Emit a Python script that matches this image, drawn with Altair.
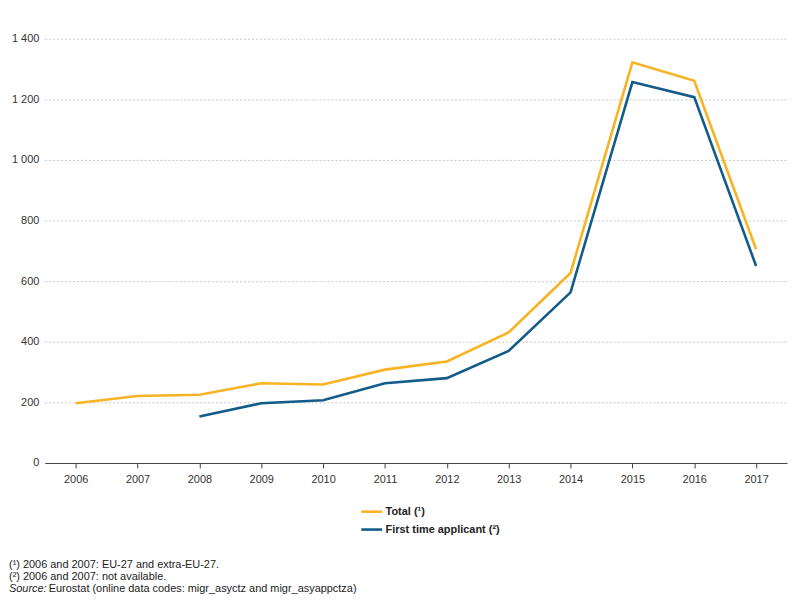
import altair as alt
import pandas as pd

years = [str(y) for y in range(2006, 2018)]
total = [197, 221, 225, 263, 259, 308, 335, 431, 627, 1322, 1261, 705]
first_years = [str(y) for y in range(2008, 2018)]
first_time = [153, 197, 207, 263, 280, 370, 563, 1257, 1207, 650]

series_names = ["Total (¹)", "First time applicant (²)"]
series_colors = ["#F8B323", "#135B88"]

footnotes = [
    "(¹) 2006 and 2007: EU-27 and extra-EU-27.",
    "(²) 2006 and 2007: not available.",
]
source_label = "Source:"
source_text = "Eurostat (online data codes: migr_asyctz and migr_asyappctza)"

rows = [{"year": y, "series": series_names[0], "value": v} for y, v in zip(years, total)]
rows += [{"year": y, "series": series_names[1], "value": v} for y, v in zip(first_years, first_time)]
df = pd.DataFrame(rows)

FONT = "Liberation Sans"

lines = alt.Chart(df).mark_line(strokeWidth=2.6).encode(
    x=alt.X("year:N", sort=years,
            scale=alt.Scale(domain=years, paddingInner=0, paddingOuter=0),
            axis=alt.Axis(title=None, labelAngle=0, bandPosition=0, tickSize=5,
                          domainColor="#444444", tickColor="#444444",
                          labelColor="#333333", labelFontSize=11, labelFont=FONT,
                          labelPadding=6, grid=False, labelBound=False,
                          labelFlush=False)),
    y=alt.Y("value:Q",
            scale=alt.Scale(domain=[0, 1400]),
            axis=alt.Axis(title=None, values=[0, 200, 400, 600, 800, 1000, 1200, 1400],
                          domain=False, ticks=False, labelPadding=6,
                          labelColor="#333333", labelFontSize=11, labelFont=FONT,
                          gridColor="#c8c8c8", gridDash=[2, 2], gridWidth=1,
                          labelExpr="replace(format(datum.value, ','), ',', ' ')")),
    color=alt.Color("series:N",
                    scale=alt.Scale(domain=series_names, range=series_colors),
                    legend=alt.Legend(title=None, orient="none", legendX=317, legendY=464,
                                      symbolType="stroke", symbolStrokeWidth=2.6,
                                      symbolSize=441, rowPadding=-2,
                                      labelFont=FONT, labelFontSize=11,
                                      labelFontWeight="bold", labelColor="#222222",
                                      labelOffset=2)),
)

def note(text, x, y, italic=False):
    return alt.Chart(pd.DataFrame({"t": [text]})).mark_text(
        align="left", baseline="middle", font=FONT, fontSize=11, color="#222222",
        fontStyle="italic" if italic else "normal",
    ).encode(text="t:N", x=alt.value(x), y=alt.value(y))

chart = alt.layer(
    lines,
    note(footnotes[0], -36, 530),
    note(footnotes[1], -36, 542),
    note(source_label, -36, 554, italic=True),
    note(source_text, 4, 554),
).properties(
    width=747, height=427,
    autosize=alt.AutoSizeParams(type="none"),
    padding={"left": 37, "top": 29, "right": 5, "bottom": 133},
).configure_view(stroke=None)

chart.save("out.html", embed_options={"renderer": "svg", "actions": False})
